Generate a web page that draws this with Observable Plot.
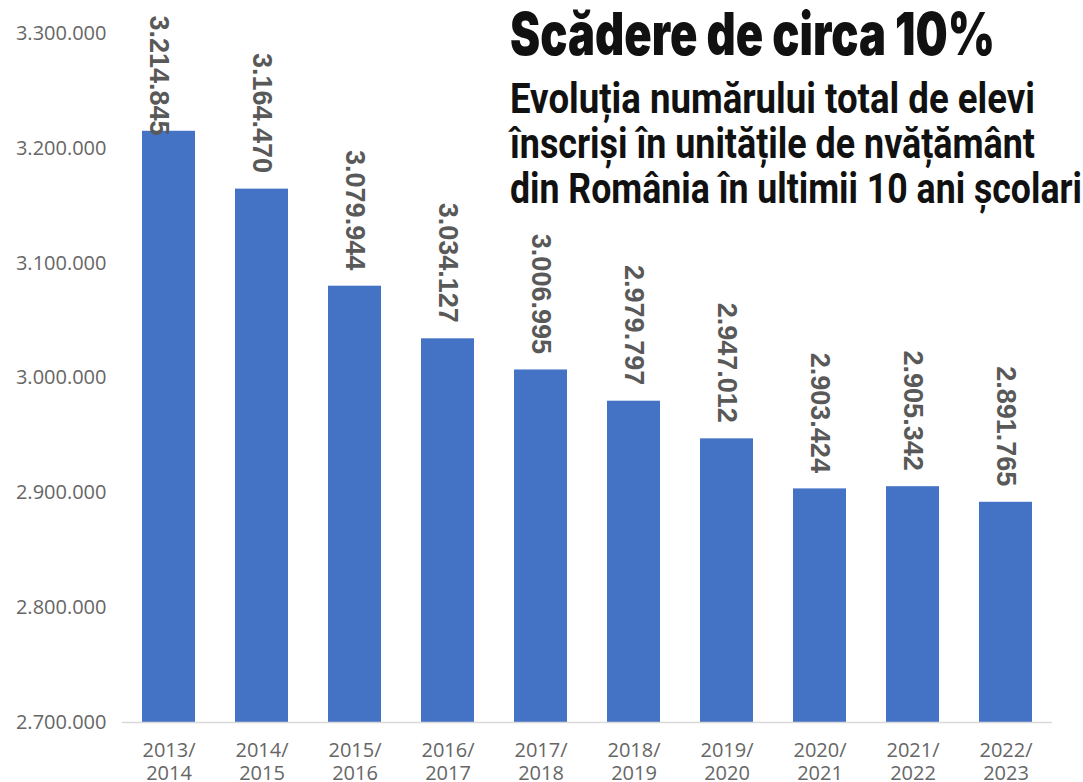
<!DOCTYPE html>
<html>
<head>
<meta charset="utf-8">
<script src="https://cdn.jsdelivr.net/npm/d3@7"></script>
<script src="https://cdn.jsdelivr.net/npm/@observablehq/plot@0.6"></script>
<style>
  html, body { margin: 0; padding: 0; background: #fff; }
  #wrap { position: relative; width: 1083px; height: 782px; overflow: hidden; }
  #overlay { position: absolute; left: 0; top: 0; pointer-events: none; }
</style>
</head>
<body>
<div id="wrap"></div>
<script>
// ---- data ----
const categories = ["2013/2014", "2014/2015", "2015/2016", "2016/2017", "2017/2018",
                    "2018/2019", "2019/2020", "2020/2021", "2021/2022", "2022/2023"];
const values = [3214845, 3164470, 3079944, 3034127, 3006995,
                2979797, 2947012, 2903424, 2905342, 2891765];
const yTicks = [2700000, 2800000, 2900000, 3000000, 3100000, 3200000, 3300000];
const title = "Scădere de circa 10%";
const subtitleLines = ["Evoluția numărului total de elevi",
                       "înscriși în unitățile de nvățământ",
                       "din România în ultimii 10 ani școlari"];

const data = categories.map((c, i) => ({year: c, value: values[i]}));
const fmt = v => d3.format(",")(v).replace(/,/g, ".");

const chart = Plot.plot({
  width: 1083,
  height: 782,
  marginLeft: 122,
  marginRight: 31,
  marginTop: 33,
  marginBottom: 60,
  style: {background: "#fff"},
  x: {domain: categories, paddingInner: 0.43, paddingOuter: 0.2, label: null},
  y: {domain: [2700000, 3300000], label: null},
  marks: [
    Plot.barY(data, {x: "year", y1: 2700000, y2: "value", fill: "#4472C4"}),
    Plot.ruleY([2700000], {stroke: "#d9d9d9", strokeWidth: 1.5}),
    Plot.axisY({ticks: yTicks, tickSize: 0, tickPadding: 16, fontSize: 20,
      fontFamily: "Open Sans", fill: "#666", tickFormat: fmt, label: null}),
    Plot.axisX({tickSize: 0, tickPadding: 18, fontSize: 20, lineHeight: 1.15,
      fontFamily: "Open Sans", fill: "#666", tickFormat: d => d.replace("/", "/\n"), label: null}),
    Plot.text(data.slice(1), {x: "year", y: "value", text: d => fmt(d.value), rotate: 90,
      textAnchor: "end", dy: -16, fontSize: 27, fontWeight: "bold",
      fontFamily: "Liberation Sans", fill: "#595959"}),
    Plot.text(data.slice(0, 1), {x: "year", frameAnchor: "top", text: d => fmt(d.value), rotate: 90,
      textAnchor: "start", dy: -18, fontSize: 27, fontWeight: "bold",
      fontFamily: "Liberation Sans", fill: "#595959"})
  ]
});

const wrap = document.getElementById("wrap");
wrap.appendChild(chart);

// ---- title overlay ----
const ns = "http://www.w3.org/2000/svg";
const ov = document.createElementNS(ns, "svg");
ov.setAttribute("id", "overlay");
ov.setAttribute("width", 1083);
ov.setAttribute("height", 782);
function addText(str, x, y, size, weight, family, len) {
  const t = document.createElementNS(ns, "text");
  t.setAttribute("x", x);
  t.setAttribute("y", y);
  t.setAttribute("font-size", size);
  t.setAttribute("font-weight", weight);
  t.setAttribute("font-family", family);
  t.setAttribute("fill", "#111");
  t.setAttribute("textLength", len);
  t.setAttribute("lengthAdjust", "spacingAndGlyphs");
  t.textContent = str;
  ov.appendChild(t);
}
addText(title, 510, 55, 59, 900, "Inter, 'Liberation Sans', sans-serif", 485);
const subLens = [525, 525, 572];
subtitleLines.forEach((s, i) => addText(s, 510, 113 + i * 45, 42, 700, "Roboto, 'Liberation Sans', sans-serif", subLens[i]));
wrap.appendChild(ov);
</script>
</body>
</html>
